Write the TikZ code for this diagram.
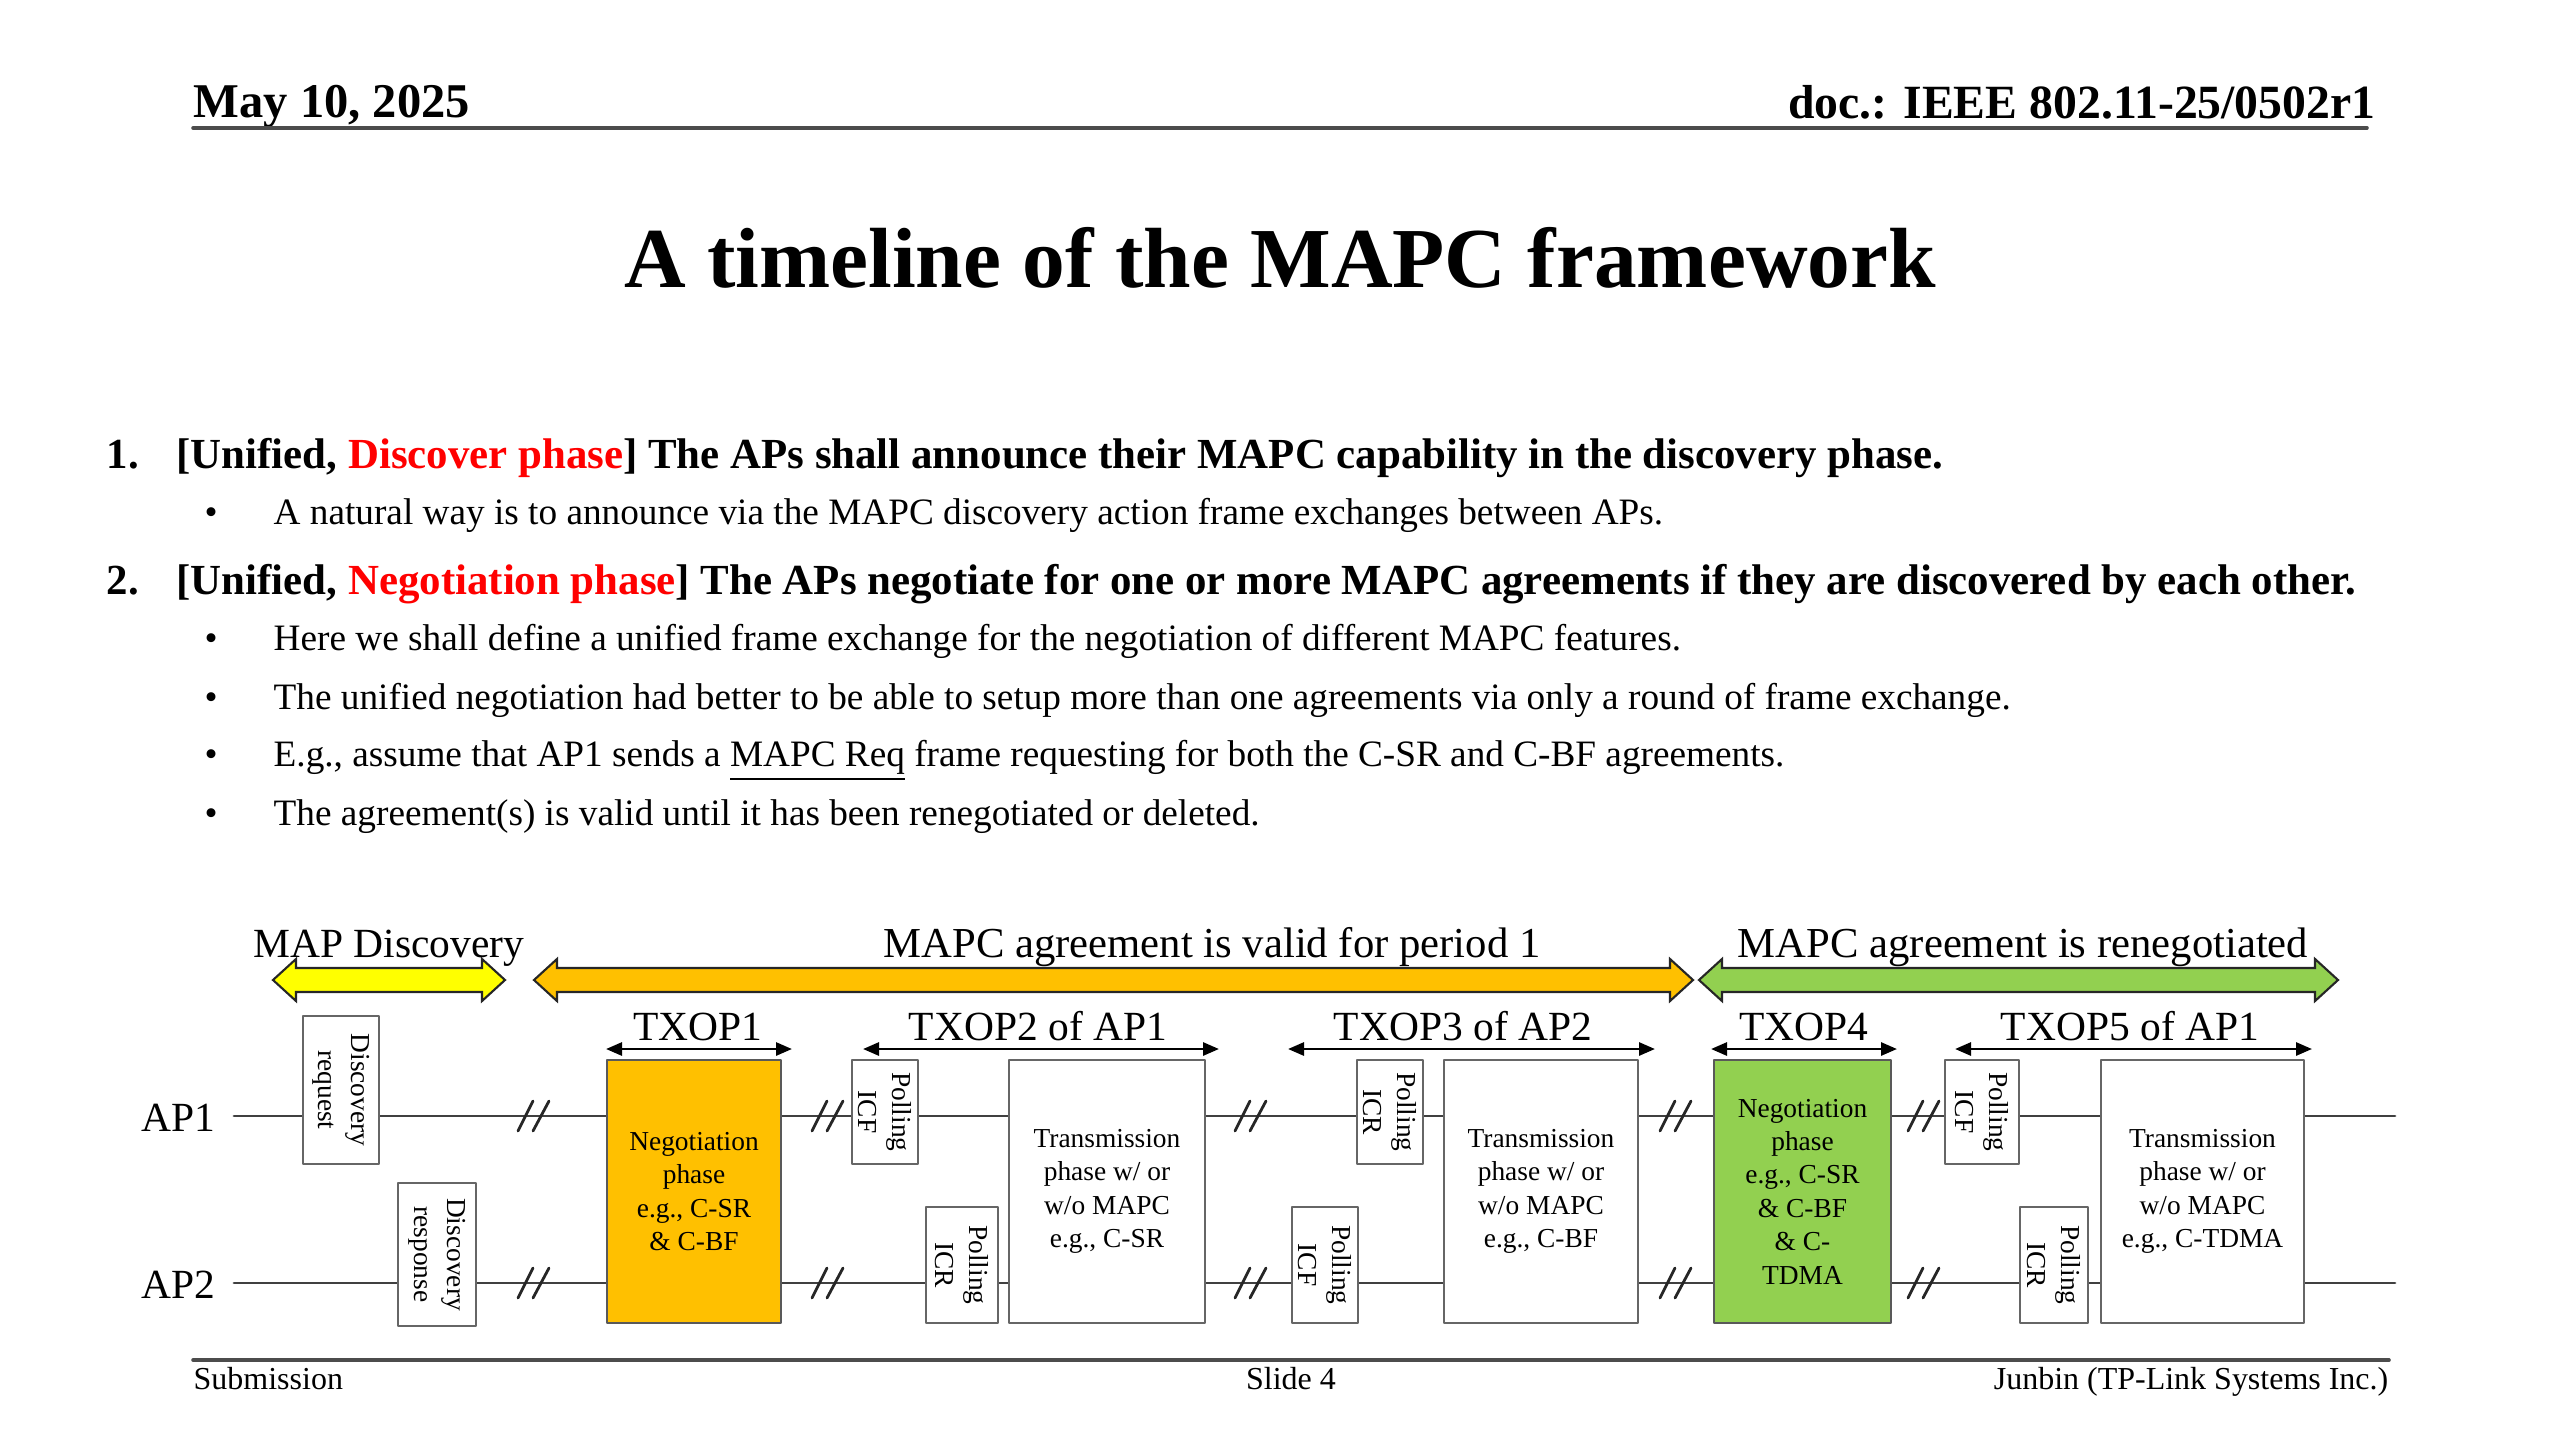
\documentclass[tikz,border=0pt]{standalone}
\usepackage{fontspec}
\setmainfont{Liberation Serif}
\usepackage{tikz}
\usetikzlibrary{arrows.meta}
\usetikzlibrary{positioning}

\tikzset{
	>={Triangle[length=1.6mm, width=1.3mm]},
	hdr/.style={font=\fontsize{13.8}{16}\selectfont\bfseries, inner sep=0pt},
	ttl/.style={font=\fontsize{24.3}{28}\selectfont\bfseries, inner sep=0pt},
	itemhead/.style={font=\fontsize{12.2}{15}\selectfont\bfseries, inner sep=0pt, anchor=base west},
	bul/.style={font=\fontsize{10.6}{13}\selectfont, inner sep=0pt, anchor=base west},
	foot/.style={font=\fontsize{9.1}{11}\selectfont, inner sep=0pt},
	lbl/.style={font=\fontsize{11.8}{14}\selectfont, inner sep=0pt},
	plbl/.style={font=\fontsize{12.15}{14}\selectfont, inner sep=0pt},
	rule/.style={black!70, line width=1pt},
	timeline/.style={black!75, line width=0.8pt},
	brk/.style={black!85, line width=0.8pt},
	span/.style={<->, black, line width=0.8pt},
	blk/.style={draw=black!85, line width=0.6pt, line join=miter},
	frame/.style={draw=black!60, line width=0.6pt, fill=white, inner sep=0.5pt, outer sep=0pt,
		align=center, font=\fontsize{7.8}{9.5}\selectfont},
	vframe/.style={frame, rotate=-90},
}

\begin{document}
\begin{tikzpicture}[x=1cm, y=-1cm, line cap=round, line join=round]
	
	% ---- Colors ----
	\definecolor{hlRed}{RGB}{255,0,0}
	\definecolor{discYellow}{RGB}{255,255,0}
	\definecolor{negOrange}{RGB}{255,192,0}
	\definecolor{negGreen}{RGB}{146,208,80}
	
	\useasboundingbox (0,0) rectangle (25.6,14.4);
	
	% ---- Header ----
	\node[hdr, anchor=base west] (date) at (1.93,1.17) {May 10, 2025};
	\node[hdr, font=\fontsize{13.57}{16}\selectfont\bfseries, anchor=base east] (docid) at (23.76,1.18) {doc.: IEEE 802.11-25/0502r1};
	\coordinate (hl) at (1.93,1.28);
	\coordinate (hr) at (23.67,1.28);
	\draw[rule] (hl) -- (hr);
	
	% ---- Title ----
	\node[ttl, anchor=base] (title) at (12.80,2.87) {A timeline of the MAPC framework};
	
	% ---- Items ----
	\node[itemhead] (num1) at (1.06,4.68) {1.};
	\node[itemhead] (item1) at (1.76,4.68) {[Unified, \textcolor{hlRed}{Discover phase}] The APs shall announce their MAPC capability in the discovery phase.};
	\node[bul] (dot1) at (2.04,5.24) {•};
	\node[bul] (txt1) at (2.73,5.24) {A natural way is to announce via the MAPC discovery action frame exchanges between APs.};
	
	\node[itemhead] (num2) at (1.06,5.94) {2.};
	\node[itemhead] (item2) at (1.76,5.94) {[Unified, \textcolor{hlRed}{Negotiation phase}] The APs negotiate for one or more MAPC agreements if they are discovered by each other.};
	\node[bul] (dot2) at (2.04,6.50) {•};
	\node[bul] (txt2) at (2.73,6.50) {Here we shall define a unified frame exchange for the negotiation of different MAPC features.};
	\node[bul] (dot3) at (2.04,7.09) {•};
	\node[bul] (txt3) at (2.73,7.09) {The unified negotiation had better to be able to setup more than one agreements via only a round of frame exchange.};
	\node[bul] (dot4) at (2.04,7.66) {•};
	\node[bul] (txt4) at (2.73,7.66) {E.g., assume that AP1 sends a \underline{MAPC Req} frame requesting for both the C-SR and C-BF agreements.};
	\node[bul] (dot5) at (2.04,8.25) {•};
	\node[bul] (txt5) at (2.73,8.25) {The agreement(s) is valid until it has been renegotiated or deleted.};
	
	% ---- Period arrows ----
	\draw[blk, fill=discYellow] (2.73,9.80) -- ++(0.23,-0.21) -- ++(0,0.09) -- (4.82,9.68) -- ++(0,-0.09) -- (5.05,9.80)
		-- ++(-0.23,0.21) -- ++(0,-0.09) -- (2.96,9.92) -- ++(0,0.09) -- cycle;
	\draw[blk, fill=negOrange] (5.34,9.80) -- ++(0.23,-0.21) -- ++(0,0.09) -- (16.70,9.68) -- ++(0,-0.09) -- (16.93,9.80)
		-- ++(-0.23,0.21) -- ++(0,-0.09) -- (5.57,9.92) -- ++(0,0.09) -- cycle;
	\draw[blk, fill=negGreen] (16.99,9.80) -- ++(0.23,-0.21) -- ++(0,0.09) -- (23.15,9.68) -- ++(0,-0.09) -- (23.38,9.80)
		-- ++(-0.23,0.21) -- ++(0,-0.09) -- (17.22,9.92) -- ++(0,0.09) -- cycle;
	\node[lbl, anchor=base] (pdisc) at (3.89,9.57) {MAP Discovery};
	\node[plbl, anchor=base] (pvalid) at (12.12,9.57) {MAPC agreement is valid for period 1};
	\node[plbl, anchor=base] (preneg) at (20.23,9.57) {MAPC agreement is renegotiated};
	
	% ---- Timelines ----
	\node[lbl, anchor=east] (ap1) at (2.16,11.18) {AP1};
	\node[lbl, anchor=east] (ap2) at (2.16,12.85) {AP2};
	\coordinate (ap1s) at (2.34,11.16);
	\coordinate (ap1e) at (23.95,11.16);
	\coordinate (ap2s) at (2.34,12.83);
	\coordinate (ap2e) at (23.95,12.83);
	\draw[timeline] (ap1s) -- (ap1e);
	\draw[timeline] (ap2s) -- (ap2e);
	
	% ---- Breaks ----
	\foreach \x in {5.33,8.27,12.50,16.75,19.23}
	\foreach \y in {11.16,12.83} {
		\draw[brk] (\x-0.15,\y+0.15) -- ++(0.15,-0.30);
		\draw[brk] (\x,\y+0.15) -- ++(0.16,-0.30);
	}
	
	% ---- Discovery frames ----
	\node[vframe, minimum width=1.48cm, minimum height=0.76cm] (dreq) at (3.41,10.90) {Discovery\\request};
	\node[vframe, minimum width=1.43cm, minimum height=0.78cm] (dresp) at (4.37,12.545) {Discovery\\response};
	
	% ---- TXOP1 ----
	\node[frame, fill=negOrange, draw=black!65, minimum width=1.74cm, minimum height=2.63cm] (neg1) at (6.94,11.915)
		{Negotiation\\phase\\e.g., C-SR\\\& C-BF};
	
	% ---- TXOP2 ----
	\node[vframe, minimum width=1.04cm, minimum height=0.66cm] (picf1) at (8.85,11.12) {Polling\\ICF};
	\node[vframe, minimum width=1.16cm, minimum height=0.72cm] (picr1) at (9.62,12.65) {Polling\\ICR};
	\node[frame, minimum width=1.96cm, minimum height=2.63cm] (tr1) at (11.07,11.915)
		{Transmission\\phase w/ or\\w/o MAPC\\e.g., C-SR};
	
	% ---- TXOP3 ----
	\node[vframe, minimum width=1.04cm, minimum height=0.66cm] (picr2) at (13.90,11.12) {Polling\\ICR};
	\node[vframe, minimum width=1.16cm, minimum height=0.66cm] (picf2) at (13.25,12.65) {Polling\\ICF};
	\node[frame, minimum width=1.94cm, minimum height=2.63cm] (tr2) at (15.41,11.915)
		{Transmission\\phase w/ or\\w/o MAPC\\e.g., C-BF};
	
	% ---- TXOP4 ----
	\node[frame, fill=negGreen, draw=black!65, minimum width=1.77cm, minimum height=2.63cm] (neg2) at (18.025,11.915)
		{Negotiation\\phase\\e.g., C-SR\\\& C-BF\\\& C-\\TDMA};
	
	% ---- TXOP5 ----
	\node[vframe, minimum width=1.04cm, minimum height=0.74cm] (picf3) at (19.82,11.12) {Polling\\ICF};
	\node[vframe, minimum width=1.16cm, minimum height=0.68cm] (picr3) at (20.54,12.65) {Polling\\ICR};
	\node[frame, minimum width=2.03cm, minimum height=2.63cm] (tr3) at (22.025,11.915)
		{Transmission\\phase w/ or\\w/o MAPC\\e.g., C-TDMA};
	
	% ---- TXOP spans ----
	\coordinate (t1l) at (6.06,10.49);  \coordinate (t1r) at (7.92,10.49);
	\coordinate (t2l) at (8.63,10.49);  \coordinate (t2r) at (12.19,10.49);
	\coordinate (t3l) at (12.88,10.49); \coordinate (t3r) at (16.55,10.49);
	\coordinate (t4l) at (17.11,10.49); \coordinate (t4r) at (18.97,10.49);
	\coordinate (t5l) at (19.55,10.49); \coordinate (t5r) at (23.12,10.49);
	\draw[span] (t1l) -- (t1r);
	\draw[span] (t2l) -- (t2r);
	\draw[span] (t3l) -- (t3r);
	\draw[span] (t4l) -- (t4r);
	\draw[span] (t5l) -- (t5r);
	\node[lbl, anchor=base] (txop1) at (6.98,10.40) {TXOP1};
	\node[lbl, anchor=base] (txop2) at (10.38,10.40) {TXOP2 of AP1};
	\node[lbl, anchor=base] (txop3) at (14.63,10.40) {TXOP3 of AP2};
	\node[lbl, anchor=base] (txop4) at (18.04,10.40) {TXOP4};
	\node[lbl, anchor=base] (txop5) at (21.30,10.40) {TXOP5 of AP1};
	
	% ---- Footer ----
	\coordinate (fl) at (1.93,13.60);
	\coordinate (fr) at (23.89,13.60);
	\draw[rule] (fl) -- (fr);
	\node[foot, anchor=base west] (subm) at (1.93,13.89) {Submission};
	\node[foot, anchor=base] (slide) at (12.91,13.89) {Slide 4};
	\node[foot, anchor=base east] (auth) at (23.89,13.89) {Junbin (TP-Link Systems Inc.)};
	
\end{tikzpicture}
\end{document}
